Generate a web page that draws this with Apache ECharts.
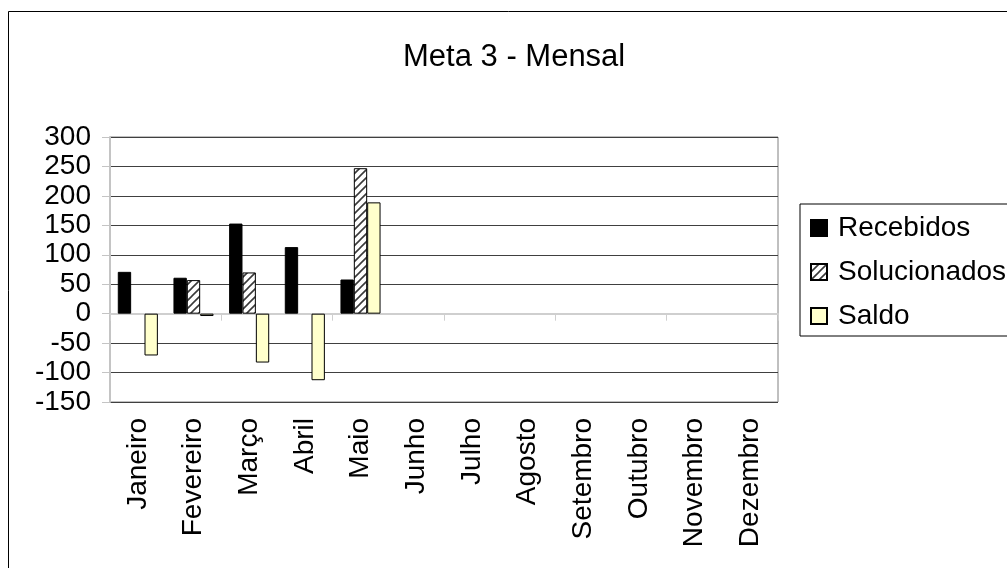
<!DOCTYPE html>
<html>
<head>
<meta charset="utf-8">
<script src="https://cdn.jsdelivr.net/npm/echarts@6/dist/echarts.min.js"></script>
<style>
  html, body { margin: 0; padding: 0; background: #fff; }
  #chart { width: 1007px; height: 568px; }
</style>
</head>
<body>
<div id="chart"></div>
<script>
// Monthly figures for "Meta 3"
const months = ['Janeiro', 'Fevereiro', 'Março', 'Abril', 'Maio', 'Junho', 'Julho',
  'Agosto', 'Setembro', 'Outubro', 'Novembro', 'Dezembro'];
const recebidos = [71, 61, 153, 113, 58, null, null, null, null, null, null, null];
const solucionados = [null, 57, 70, null, 247, null, null, null, null, null, null, null];
const saldo = [-71, -4, -83, -113, 189, null, null, null, null, null, null, null];
const yTicks = { min: -150, max: 300, step: 50 };

// Diagonal hatch fill used for "Solucionados"
function hatchPattern() {
  const s = 8;
  const c = document.createElement('canvas');
  c.width = s; c.height = s;
  const g = c.getContext('2d');
  g.fillStyle = '#ffffff';
  g.fillRect(0, 0, s, s);
  g.strokeStyle = '#3a3a3a';
  g.lineWidth = 1.6;
  g.beginPath();
  g.moveTo(0, s); g.lineTo(s, 0);
  g.moveTo(-2, 2); g.lineTo(2, -2);
  g.moveTo(s - 2, s + 2); g.lineTo(s + 2, s - 2);
  g.stroke();
  return c;
}

const FONT = '"Liberation Sans", Arial, sans-serif';
const chart = echarts.init(document.getElementById('chart'));

chart.setOption({
  backgroundColor: '#ffffff',
  animation: false,
  title: {
    text: 'Meta 3 - Mensal',
    left: 398,
    top: 37,
    textStyle: { fontFamily: FONT, fontSize: 31, fontWeight: 'normal', color: '#000' }
  },
  graphic: [{
    type: 'rect',
    shape: { x: 8.5, y: 11.5, width: 1200, height: 800 },
    style: { fill: 'none', stroke: '#000', lineWidth: 1 },
    silent: true,
    z: 0
  }],
  legend: {
    orient: 'vertical',
    left: 800,
    top: 204,
    padding: [9, 8, 5, 10],
    itemGap: 14,
    itemWidth: 16,
    itemHeight: 16,
    borderColor: '#000',
    borderWidth: 1,
    icon: 'rect',
    textStyle: { fontFamily: FONT, fontSize: 28, color: '#000', lineHeight: 30, padding: [0, 0, 0, 6] },
    data: ['Recebidos', 'Solucionados', 'Saldo']
  },
  grid: {
    left: 110,
    right: 229,
    top: 137,
    bottom: 166,
    show: true,
    borderColor: '#808080',
    borderWidth: 1,
    backgroundColor: 'transparent'
  },
  xAxis: [{
    type: 'category',
    data: months,
    position: 'bottom',
    axisLine: { show: false, onZero: false },
    axisTick: { show: false },
    axisLabel: {
      rotate: 90,
      margin: 16,
      interval: 0,
      fontFamily: FONT,
      fontSize: 28,
      color: '#000'
    },
    splitLine: { show: false }
  }, {
    type: 'category',
    data: months,
    position: 'bottom',
    axisLine: { show: true, onZero: true, lineStyle: { color: '#cfcfcf', width: 2 } },
    axisTick: { show: true, length: 7, lineStyle: { color: '#cfcfcf', width: 1 } },
    axisLabel: { show: false },
    splitLine: { show: false }
  }],
  yAxis: {
    type: 'value',
    min: yTicks.min,
    max: yTicks.max,
    interval: yTicks.step,
    axisLine: { show: true, lineStyle: { color: '#c4c4c4', width: 2 } },
    axisTick: { show: true, length: 8, lineStyle: { color: '#c4c4c4' } },
    axisLabel: { margin: 19, fontFamily: FONT, fontSize: 28, color: '#000' },
    splitLine: { show: true, lineStyle: { color: '#404040', width: 1 } }
  },
  series: [{
    name: 'Recebidos',
    type: 'bar',
    data: recebidos,
    barGap: '0%',
    barCategoryGap: '28%',
    itemStyle: { color: '#000000', borderColor: '#000', borderWidth: 1 }
  }, {
    name: 'Solucionados',
    type: 'bar',
    data: solucionados,
    barGap: '0%',
    barCategoryGap: '28%',
    itemStyle: { color: { image: hatchPattern(), repeat: 'repeat' }, borderColor: '#000', borderWidth: 1 }
  }, {
    name: 'Saldo',
    type: 'bar',
    data: saldo,
    barGap: '0%',
    barCategoryGap: '28%',
    itemStyle: { color: '#FFFFCC', borderColor: '#000', borderWidth: 1 }
  }]
});
</script>
</body>
</html>
